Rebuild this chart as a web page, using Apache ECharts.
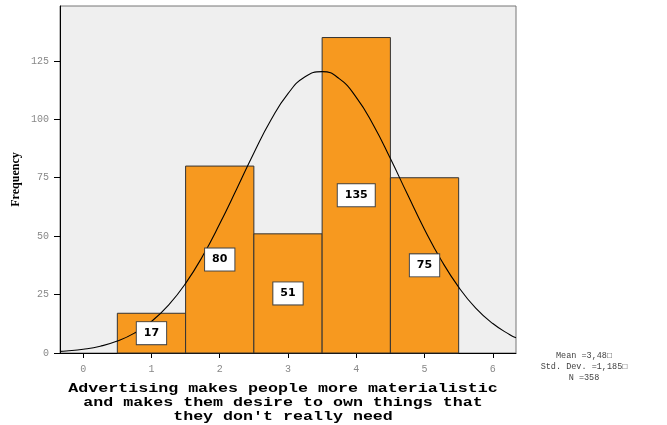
<!DOCTYPE html>
<html><head><meta charset="utf-8">
<script src="https://cdn.jsdelivr.net/npm/echarts@6/dist/echarts.min.js"></script>
<style>html,body{margin:0;padding:0;background:#fff}#c{width:667px;height:425px}</style>
</head><body><div id="c"></div>
<script>
// Data
var categories = [1, 2, 3, 4, 5];
var frequencies = [17, 80, 51, 135, 75];
var xTicks = [0, 1, 2, 3, 4, 5, 6];
var yTicks = [0, 25, 50, 75, 100, 125];
var curveX = [-0.34, -0.25, 0, 0.25, 0.5, 0.75, 1, 1.25, 1.5, 1.75, 2, 2.25, 2.5, 2.75, 3, 3.25, 3.5, 3.75, 4, 4.25, 4.5, 4.75, 5, 5.25, 5.5, 5.75, 6, 6.25, 6.34];
var curveY = [0.7, 0.85, 1.6, 2.9, 5.1, 8.5, 13.5, 20.5, 29.8, 41.5, 55.3, 70.3, 85.6, 99.7, 111.0, 118.2, 120.4, 117.4, 109.4, 97.6, 83.2, 67.9, 52.9, 39.5, 28.2, 19.2, 12.6, 7.8, 6.5];
var statsLines = ['Mean =3,48\u25A1', 'Std. Dev. =1,185\u25A1', 'N =358'];
var xTitleLines = ['Advertising makes people more materialistic', 'and makes them desire to own things that', "they don't really need"];
var yTitle = 'Frequency';

var chart = echarts.init(document.getElementById('c'), null, {renderer: 'canvas'});
var barData = categories.map(function (c, i) { return [c, frequencies[i]]; });
var labelData = categories.map(function (c, i) { return [c, frequencies[i] / 2, frequencies[i]]; });
var curveData = curveX.map(function (x, i) { return [x, curveY[i]]; });

var tickFont = {color: '#888', fontFamily: 'Liberation Mono', fontSize: 10};

chart.setOption({
  animation: false,
  grid: {left: 60, right: 151, top: 6, bottom: 72, show: true, backgroundColor: '#efefef', borderColor: '#777', borderWidth: 1},
  xAxis: {
    type: 'value', min: -0.34, max: 6.34,
    axisLine: {show: true, onZero: false, lineStyle: {color: '#000', width: 1}},
    axisTick: {show: true, length: 5, customValues: xTicks, lineStyle: {color: '#000'}},
    axisLabel: Object.assign({customValues: xTicks, margin: 11}, tickFont),
    splitLine: {show: false}
  },
  yAxis: {
    type: 'value', min: 0, max: 148.5,
    axisLine: {show: true, onZero: false, lineStyle: {color: '#000', width: 1}},
    axisTick: {show: true, length: 6, customValues: yTicks, lineStyle: {color: '#000'}},
    axisLabel: Object.assign({customValues: yTicks, margin: 11}, tickFont),
    splitLine: {show: false},
    name: yTitle, nameLocation: 'middle', nameGap: 38, nameRotate: 90, nameMoveOverlap: false,
    nameTextStyle: {fontFamily: 'Liberation Serif', fontWeight: 'bold', fontSize: 12, color: '#000'}
  },
  series: [
    {
      type: 'custom',
      data: barData,
      renderItem: function (params, api) {
        var x = api.value(0), y = api.value(1);
        var p1 = api.coord([x - 0.5, y]);
        var p2 = api.coord([x + 0.5, 0]);
        return {
          type: 'rect',
          shape: {x: p1[0], y: p1[1], width: p2[0] - p1[0], height: p2[1] - p1[1]},
          style: {fill: '#f7991f', stroke: '#333', lineWidth: 1}
        };
      },
      z: 2
    },
    {
      type: 'line', data: curveData, smooth: true, showSymbol: false,
      lineStyle: {color: '#000', width: 1.1}, clip: true, z: 3
    },
    {
      type: 'scatter', data: labelData, symbolSize: 0, z: 4,
      itemStyle: {opacity: 1},
      label: {
        show: true, position: 'inside', opacity: 1,
        formatter: function (p) { return String(p.value[2]); },
        backgroundColor: '#ffffff', borderColor: '#444', borderWidth: 1,
        padding: [6, 7, 5, 7],
        color: '#000', fontFamily: 'DejaVu Sans', fontWeight: 'bold', fontSize: 11
      }
    }
  ],
  graphic: [
    {
      type: 'text', x: 584, y: 350, z: 10,
      style: {
        text: statsLines.join('\n'), align: 'center', verticalAlign: 'top',
        fontFamily: 'Liberation Mono', fontSize: 8.5, lineHeight: 11, fill: '#444'
      }
    },
    {
      type: 'text', x: 283, y: 382, scaleX: 1.28, z: 10,
      style: {
        text: xTitleLines.join('\n'), align: 'center', verticalAlign: 'top',
        fontFamily: 'Liberation Mono', fontWeight: 'bold', fontSize: 13, lineHeight: 14, fill: '#000'
      }
    }
  ]
});
</script></body></html>
